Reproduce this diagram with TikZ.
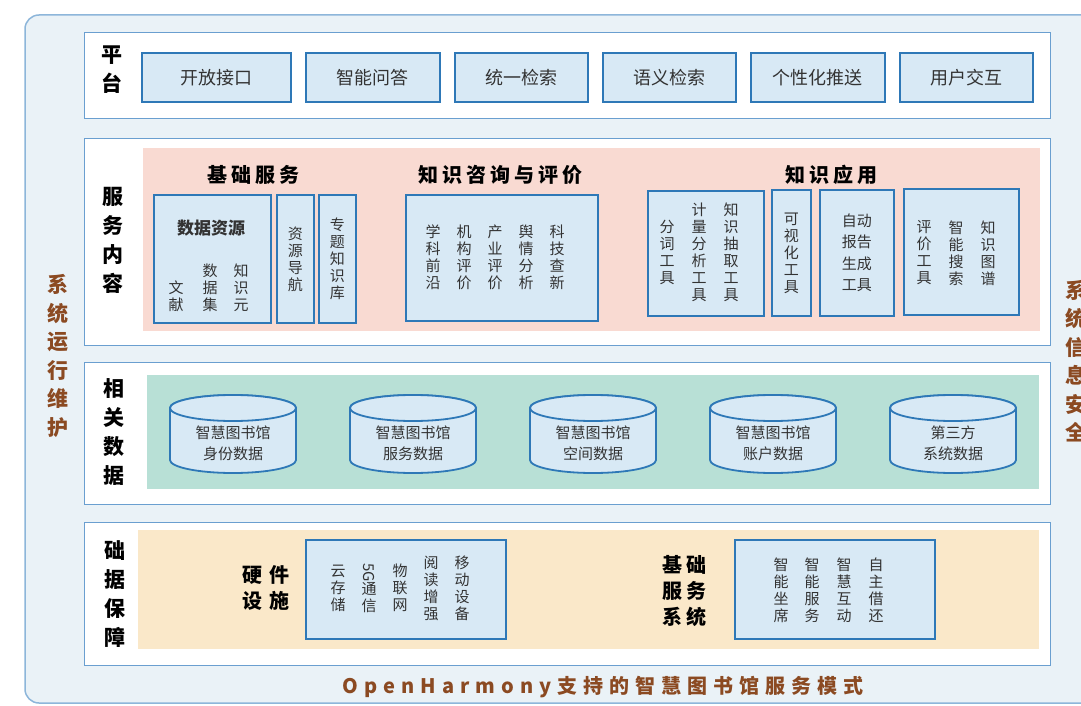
\documentclass[tikz,border=0pt]{standalone}
\usepackage{fontspec}
\usepackage{graphicx}
\setmainfont{Noto Sans CJK SC}
\newfontfamily\spfont[LetterSpace=20]{Noto Sans CJK SC}
\newfontfamily\widefont[LetterSpace=35]{Noto Sans CJK SC}
\newfontfamily\ttlfont[LetterSpace=30]{Noto Sans CJK SC}
\definecolor{outerfill}{HTML}{EAF2F7}
\definecolor{outerdraw}{HTML}{8DB6DA}
\definecolor{layerdraw}{HTML}{6A9FD0}
\definecolor{itemdraw}{HTML}{2E78B7}
\definecolor{itemfill}{HTML}{D8E9F5}
\definecolor{pinkfill}{HTML}{F9DAD2}
\definecolor{tealfill}{HTML}{B8E0D6}
\definecolor{beigefill}{HTML}{FAE8C9}
\definecolor{brown}{HTML}{8B4A22}
\definecolor{txt}{HTML}{333333}
\newcommand{\bx}[7]{\node[#1, anchor=north west, minimum width={#4-#2}, minimum height={#5-#3}] (#6) at (#2,#3) {#7};}
\begin{document}
\begin{tikzpicture}[x=1pt,y=-1pt,
  outerbox/.style={draw=outerdraw, fill=outerfill, line width=1.5pt, rounded corners=14pt},
  layer/.style={draw=layerdraw, fill=white, line width=1.4pt, inner sep=0},
  band/.style={draw=none, inner sep=0},
  item/.style={draw=itemdraw, fill=itemfill, line width=1.8pt, inner sep=0, text=txt, font=\fontsize{18}{22}\selectfont, align=center},
  vitem/.style={item, font=\fontsize{15}{17}\selectfont},
  vcol/.style={inner sep=0, text=txt, font=\fontsize{15}{17}\selectfont, align=center},
  lbl/.style={inner sep=0, font=\bfseries\fontsize{21}{29}\selectfont, align=center},
  side/.style={inner sep=0, text=brown, font=\bfseries\fontsize{21}{28.5}\selectfont, align=center},
  hdr/.style={inner sep=0, font=\spfont\bfseries\fontsize{20}{24}\selectfont},
  wide/.style={inner sep=0, font=\widefont\bfseries\fontsize{20}{26}\selectfont, align=center},
  cyl/.style={draw=itemdraw, fill=itemfill, line width=1.8pt},
  cyltxt/.style={inner sep=0, text=txt, font=\fontsize{15}{21}\selectfont, align=center}
]
\useasboundingbox (0,0) rectangle (1081,706);
\clip (0,0) rectangle (1081,706);
\fill[white] (0,0) rectangle (1081,706);
\draw[outerbox] (25,15) rectangle (1120,703);
\node[side] (ops) at (58,356) {系\\统\\运\\行\\维\\护};
\node[side] (sec) at (1076,361) {系\\统\\信\\息\\安\\全};

% Platform layer
\bx{layer}{84}{32}{1050}{118}{plat}{}
\node[lbl] (platl) at (112,70) {平\\台};
\bx{item}{141}{52}{290}{101}{p1}{开放接口}
\bx{item}{305}{52}{439}{101}{p2}{智能问答}
\bx{item}{454}{52}{587}{101}{p3}{统一检索}
\bx{item}{602}{52}{735}{101}{p4}{语义检索}
\bx{item}{750}{52}{884}{101}{p5}{个性化推送}
\bx{item}{899}{52}{1032}{101}{p6}{用户交互}

% Service layer
\bx{layer}{84}{138}{1050}{345}{serv}{}
\bx{band, fill=pinkfill}{143}{148}{1040}{331}{servband}{}
\node[lbl] (servl) at (113,240) {服\\务\\内\\容};
\node[hdr] (h1) at (253,175) {基础服务};
\node[hdr] (h2) at (500,175) {知识咨询与评价};
\node[hdr] (h3) at (831,175) {知识应用};

\bx{item}{153}{194}{270}{322}{ds}{}
\node[inner sep=0, text=txt, font=\bfseries\fontsize{17}{20}\selectfont] (dst) at (211,228) {数据资源};
\node[vcol, anchor=south] (ds1) at (176,312) {文\\献};
\node[vcol, anchor=south] (ds2) at (210,312) {数\\据\\集};
\node[vcol, anchor=south] (ds3) at (241,312) {知\\识\\元};
\bx{vitem}{276}{194}{313}{322}{nav}{资\\源\\导\\航}
\bx{vitem}{318}{194}{355}{322}{topic}{专\\题\\知\\识\\库}

\bx{item}{405}{194}{597}{320}{eval}{}
\node[vcol] (e1) at (433,257) {学\\科\\前\\沿};
\node[vcol] (e2) at (464,257) {机\\构\\评\\价};
\node[vcol] (e3) at (495,257) {产\\业\\评\\价};
\node[vcol] (e4) at (526,257) {舆\\情\\分\\析};
\node[vcol] (e5) at (557,257) {科\\技\\查\\新};

\bx{item}{647}{190}{763}{315}{tools}{}
\node[vcol] (t1) at (667,252) {分\\词\\工\\具};
\node[vcol] (t2) at (699,252) {计\\量\\分\\析\\工\\具};
\node[vcol] (t3) at (731,252) {知\\识\\抽\\取\\工\\具};
\bx{vitem}{771}{189}{810}{315}{vis}{可\\视\\化\\工\\具}
\bx{item, font=\fontsize{15}{21.5}\selectfont}{819}{189}{893}{315}{auto}{自动\\报告\\生成\\工具}
\bx{item}{903}{188}{1018}{314}{kg}{}
\node[vcol] (k1) at (924,253) {评\\价\\工\\具};
\node[vcol] (k2) at (956,253) {智\\能\\搜\\索};
\node[vcol] (k3) at (988,253) {知\\识\\图\\谱};

% Data layer
\bx{layer}{84}{362}{1050}{504}{data}{}
\bx{band, fill=tealfill}{147}{375}{1039}{489}{databand}{}
\node[lbl] (datal) at (114,432) {相\\关\\数\\据};
\foreach \cx/\nm/\t in {233/d1/{智慧图书馆\\身份数据},413/d2/{智慧图书馆\\服务数据},593/d3/{智慧图书馆\\空间数据},773/d4/{智慧图书馆\\账户数据},953/d5/{第三方\\系统数据}}{
  \filldraw[cyl] (\cx-63,408) -- (\cx-63,460) arc[start angle=180,end angle=0,x radius=63,y radius=13] -- (\cx+63,408) arc[start angle=0,end angle=-180,x radius=63,y radius=13] -- cycle;
  \filldraw[cyl] (\cx,408) ellipse[x radius=63,y radius=13];
  \node[cyltxt] (\nm) at (\cx,443) {\t};
}

% Foundation layer
\bx{layer}{84}{522}{1050}{665}{base}{}
\bx{band, fill=beigefill}{138}{530}{1039}{649}{baseband}{}
\node[lbl] (basel) at (115,594) {础\\据\\保\\障};
\node[wide] (hw) at (266,588) {硬件\\设施};
\bx{item}{305}{539}{505}{638}{hwbox}{}
\node[vcol] (w1) at (338,588) {云\\存\\储};
\node[vcol] (w2) at (369,588) {\rotatebox{-90}{5G}\\通\\信};
\node[vcol] (w3) at (400,588) {物\\联\\网};
\node[vcol] (w4) at (431,588) {阅\\读\\增\\强};
\node[vcol] (w5) at (462,588) {移\\动\\设\\备};
\node[wide, font=\spfont\bfseries\fontsize{20}{26}\selectfont] (bs) at (684,591) {基础\\服务\\系统};
\bx{item}{734}{539}{934}{638}{bsbox}{}
\node[vcol] (b1) at (781,590) {智\\能\\坐\\席};
\node[vcol] (b2) at (812,590) {智\\能\\服\\务};
\node[vcol] (b3) at (844,590) {智\\慧\\互\\动};
\node[vcol] (b4) at (876,590) {自\\主\\借\\还};

\node[inner sep=0, text=brown, font=\ttlfont\bfseries\fontsize{20}{24}\selectfont] (title) at (603,687) {OpenHarmony支持的智慧图书馆服务模式};
\end{tikzpicture}
\end{document}
